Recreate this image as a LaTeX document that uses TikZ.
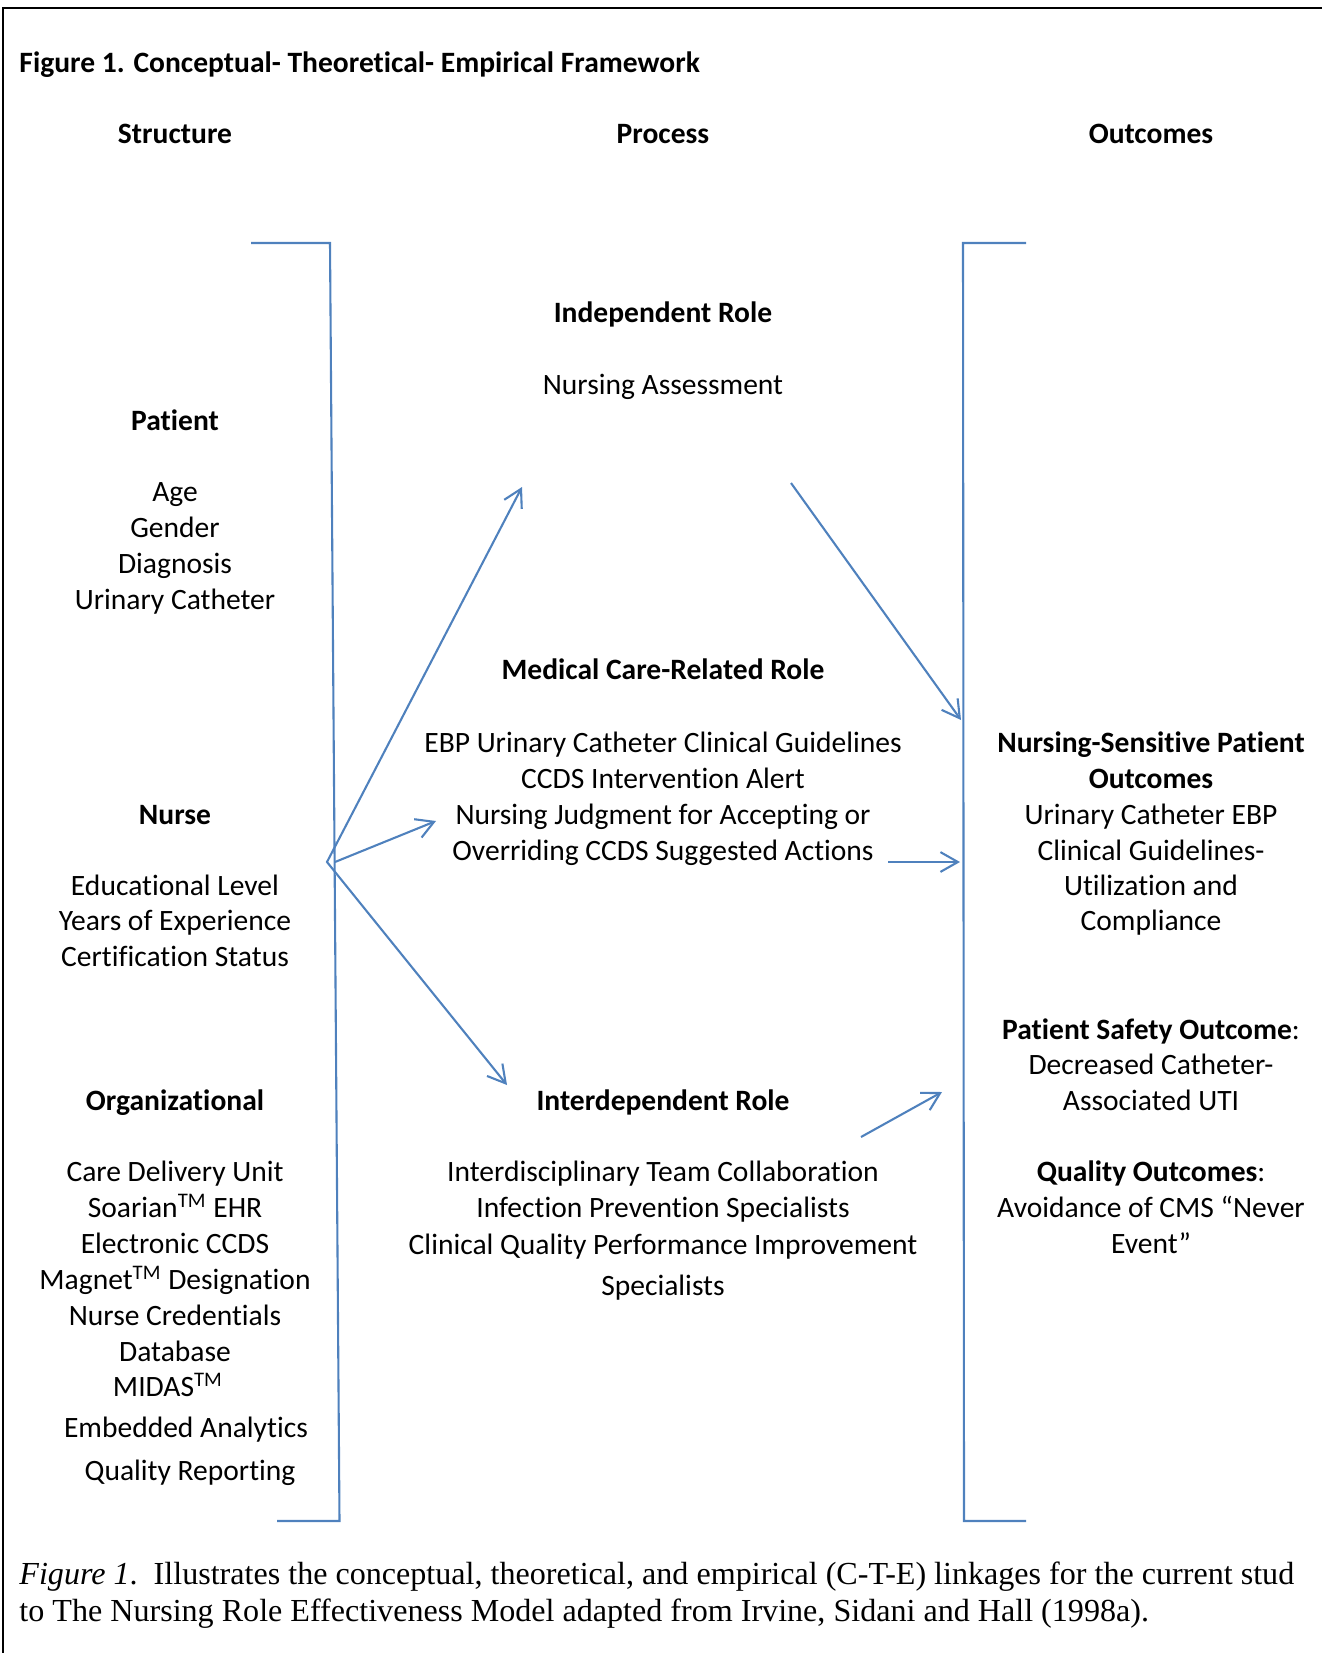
\documentclass[tikz,border=0pt]{standalone}
\usepackage{fontspec}
\setmainfont{Carlito}[Ligatures=CommonOff]
\newfontfamily\capfont{Liberation Serif}
\usetikzlibrary{arrows.meta}
\definecolor{wordblue}{RGB}{79,129,189}
\newcommand{\trademk}{\textsuperscript{TM}}
\tikzset{
  >={Straight Barb[length=7.5pt,width=8.5pt]},
  txt/.style={anchor=mid,inner sep=0pt,yshift=-1.6pt,
    font=\fontsize{12.7}{15}\selectfont},
  hd/.style={txt,font=\fontsize{12.7}{15}\selectfont\bfseries},
  brk/.style={draw=wordblue,line width=0.9pt},
  flow/.style={->,draw=wordblue,line width=0.9pt},
  capline/.style={anchor=mid west,inner sep=0pt,yshift=-1.6pt,
    font=\capfont\fontsize{13.8}{16}\selectfont},
}

\begin{document}
\begin{tikzpicture}[x=0.43pt,y=-0.43pt]
  \useasboundingbox (0,0) rectangle (1322,1653);
  % frame
  \draw[line width=0.9pt] (3,1653) -- (3,8) -- (1322,8);
  \node[hd,anchor=mid west] (title) at (19,63)
    {Figure 1. Conceptual- Theoretical- Empirical Framework};
  \foreach \x/\t in {175/Structure,663/Process,1151/Outcomes}
    \node[hd] (col\t) at (\x,134) {\t};

  % structure
  \node[hd] (patient) at (175,421) {Patient};
  \foreach \y/\t [count=\i] in {492/Age,528/Gender,564/Diagnosis,600/Urinary Catheter}
    \node[txt] (pat\i) at (175,\y) {\t};
  \node[hd] (nurse) at (175,815) {Nurse};
  \foreach \y/\t [count=\i] in {886/Educational Level,921/Years of Experience,
      957/Certification Status}
    \node[txt] (nur\i) at (175,\y) {\t};
  \node[hd] (org) at (175,1101) {Organizational};
  \foreach \x/\y/\t [count=\i] in {175/1172/Care Delivery Unit,
      175/1208/{Soarian\trademk\ EHR},175/1244/Electronic CCDS,
      175/1280/{Magnet\trademk\ Designation},175/1316/Nurse Credentials,
      175/1352/Database,168/1387/{MIDAS\trademk},186/1428/Embedded Analytics,
      190/1471/Quality Reporting}
    \node[txt] (org\i) at (\x,\y) {\t};

  % process
  \node[hd] (indep) at (663,313) {Independent Role};
  \node[txt] (ind1) at (663,385) {Nursing Assessment};
  \node[hd] (medic) at (663,670) {Medical Care-Related Role};
  \foreach \y/\t [count=\i] in {743/EBP Urinary Catheter Clinical Guidelines,
      779/CCDS Intervention Alert,815/Nursing Judgment for Accepting or,
      851/Overriding CCDS Suggested Actions}
    \node[txt] (med\i) at (663,\y) {\t};
  \node[hd] (inter) at (663,1101) {Interdependent Role};
  \foreach \y/\t [count=\i] in {1172/Interdisciplinary Team Collaboration,
      1208/Infection Prevention Specialists,
      1245/Clinical Quality Performance Improvement,1286/Specialists}
    \node[txt] (int\i) at (663,\y) {\t};

  % outcomes
  \foreach \y/\t [count=\i] in {743/\textbf{Nursing-Sensitive Patient},
      779/\textbf{Outcomes},815/Urinary Catheter EBP,851/Clinical Guidelines-,
      886/Utilization and,921/Compliance,
      1030/{\textbf{Patient Safety Outcome}:},1065/Decreased Catheter-,
      1101/Associated UTI,1172/{\textbf{Quality Outcomes}:},
      1208/Avoidance of CMS “Never,1244/Event”}
    \node[txt] (out\i) at (1151,\y) {\t};

  % brackets
  \draw[brk] (251,243) -- (330,243) -- (339.5,1521) -- (277,1521);
  \draw[brk] (1026,243) -- (963,243) -- (964,1521) -- (1026,1521);

  % arrows
  \coordinate (hub) at (327,862);
  \coordinate (hubr) at (335,862);
  \coordinate (indIn) at (522,487);
  \coordinate (medIn) at (436,821);
  \coordinate (intIn) at (507,1085);
  \coordinate (indOut) at (791,483);
  \coordinate (nspIn) at (961,720);
  \coordinate (medOut) at (888,862);
  \coordinate (nspIn2) at (960,862);
  \coordinate (intOut) at (861,1137);
  \coordinate (psoIn) at (942,1092);
  \draw[flow,<->] (indIn) -- (hub) -- (intIn);
  \draw[flow] (hubr) -- (medIn);
  \draw[flow] (indOut) -- (nspIn);
  \draw[flow] (medOut) -- (nspIn2);
  \draw[flow] (intOut) -- (psoIn);

  % caption
  \node[capline] (cap1) at (19,1575) {\textit{Figure 1}.\ \ Illustrates the
    conceptual, theoretical, and empirical (C-T-E) linkages for the current stud};
  \node[capline] (cap2) at (19,1612) {to The Nursing Role Effectiveness Model
    adapted from Irvine, Sidani and Hall (1998a).};
\end{tikzpicture}
\end{document}
